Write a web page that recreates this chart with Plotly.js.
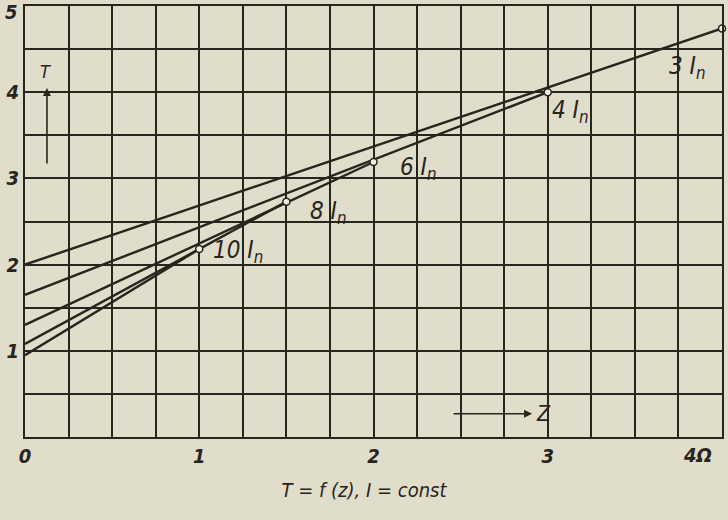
<!DOCTYPE html>
<html>
<head>
<meta charset="utf-8">
<script src="https://cdn.plot.ly/plotly-3.0.1.min.js"></script>
<style>html,body{margin:0;padding:0;background:#e1ddcb;}#chart{width:728px;height:520px;}</style>
</head>
<body>
<div id="chart"></div>
<script>
// Data
const seriesLabels = ['3', '4', '6', '8', '10'];          // multiples of I_n
const zStart = [0, 0, 0, 0, 0];
const tStart = [2.00, 1.65, 1.30, 1.08, 0.95];
const zEnd   = [4, 3, 2, 1.5, 1];
const tEnd   = [4.74, 4.00, 3.19, 2.73, 2.18];
const labelZ = [3.80, 3.13, 2.26, 1.74, 1.22];
const labelT = [4.29, 3.78, 3.12, 2.61, 2.15];
// tick labels
const xTickVals = [0, 1, 2, 3];
const xTickText = ['0', '1', '2', '3'];
const yTickVals = [1, 2, 3, 4];
const yTickText = ['1', '2', '3', '4'];
const edgeLabelX = {z: 3.86, text: '4Ω'};
const edgeLabelY = {t: 4.93, text: '5'};

const ink = '#28241e';
const paper = '#e1ddcb';
const fam = '"DejaVu Sans Condensed", "DejaVu Sans", sans-serif';

const traces = [];
for (let i = 0; i < seriesLabels.length; i++) {
  traces.push({
    x: [zStart[i], zEnd[i]], y: [tStart[i], tEnd[i]],
    mode: 'lines', type: 'scatter',
    line: {color: ink, width: 2.4},
    hoverinfo: 'skip', showlegend: false
  });
}
traces.push({
  x: zEnd, y: tEnd, mode: 'markers', type: 'scatter',
  marker: {symbol: 'circle', size: 7, color: '#f2efe2', line: {color: ink, width: 1.5}},
  showlegend: false, hoverinfo: 'skip', cliponaxis: false
});

const tickFont = {family: fam, size: 20, color: ink, weight: 'bold', style: 'italic'};
const annotations = seriesLabels.map((s, i) => ({
  x: labelZ[i], y: labelT[i], xref: 'x', yref: 'y',
  text: '<i>' + s + ' I<sub>n</sub></i>', showarrow: false,
  font: {family: fam, size: 24, color: ink}
}));
// edge tick labels
annotations.push({x: edgeLabelX.z, y: 0, xref: 'x', yref: 'y', yshift: -18, text: '<b><i>' + edgeLabelX.text + '</i></b>',
  showarrow: false, font: tickFont});
annotations.push({x: 0, y: edgeLabelY.t, xref: 'x', yref: 'y', xshift: -14, text: '<b><i>' + edgeLabelY.text + '</i></b>',
  showarrow: false, font: tickFont});
// T arrow
annotations.push({x: 0.126, y: 4.05, xref: 'x', yref: 'y', ax: 0, ay: 77,
  text: '', showarrow: true, arrowhead: 2, arrowsize: 1, arrowwidth: 1.6, arrowcolor: ink});
annotations.push({x: 0.115, y: 4.24, xref: 'x', yref: 'y', text: '<i>T</i>', showarrow: false,
  font: {family: fam, size: 18, color: ink}});
// Z arrow
annotations.push({x: 2.91, y: 0.27, xref: 'x', yref: 'y', ax: -80, ay: 0,
  text: '', showarrow: true, arrowhead: 2, arrowsize: 1, arrowwidth: 1.6, arrowcolor: ink});
annotations.push({x: 2.975, y: 0.27, xref: 'x', yref: 'y', text: '<i>Z</i>', showarrow: false,
  font: {family: fam, size: 21, color: ink}});

const layout = {
  width: 728, height: 520,
  paper_bgcolor: paper, plot_bgcolor: paper,
  margin: {l: 25, r: 6, t: 6, b: 83},
  showlegend: false,
  title: {text: '<i>T = f (z), I = const</i>', font: {family: fam, size: 20, color: ink},
    x: 0.5, xanchor: 'center', y: 0.058, yanchor: 'middle'},
  xaxis: {
    range: [0, 4], tickmode: 'array', tickvals: xTickVals, ticktext: xTickText,
    showgrid: true, gridcolor: ink, gridwidth: 2,
    minor: {tickmode: 'linear', tick0: 0, dtick: 0.25, showgrid: true, gridcolor: ink, gridwidth: 2, ticks: ''},
    showline: true, linecolor: ink, linewidth: 2, mirror: true,
    zeroline: false, ticks: '', ticklen: 0,
    tickfont: tickFont
  },
  yaxis: {
    range: [0, 5], tickmode: 'array', tickvals: yTickVals, ticktext: yTickText,
    showgrid: true, gridcolor: ink, gridwidth: 2,
    minor: {tickmode: 'linear', tick0: 0, dtick: 0.5, showgrid: true, gridcolor: ink, gridwidth: 2, ticks: ''},
    showline: true, linecolor: ink, linewidth: 2, mirror: true,
    zeroline: false, ticks: '', ticklen: 0,
    tickfont: tickFont
  },
  annotations: annotations
};

Plotly.newPlot('chart', traces, layout, {staticPlot: true, displayModeBar: false});
</script>
</body>
</html>
